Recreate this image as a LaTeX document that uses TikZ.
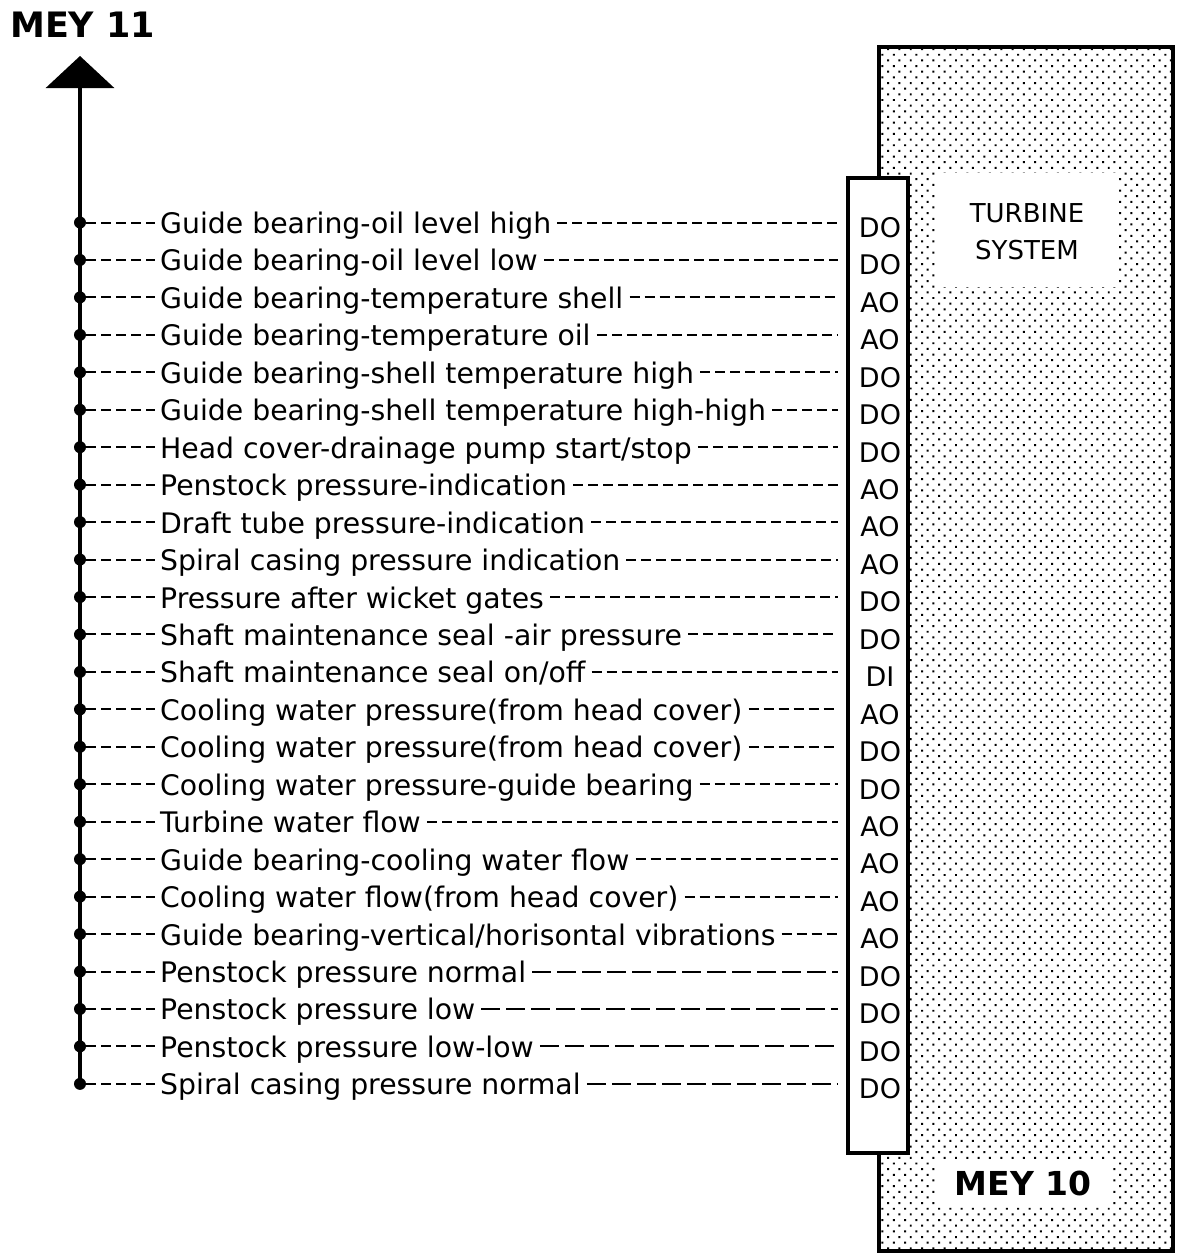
\documentclass[tikz,border=0pt]{standalone}
\usepackage{fontspec}
\setmainfont{DejaVu Sans}
\usetikzlibrary{arrows.meta,patterns.meta}
\tikzset{
  rowtext/.style={anchor=base west,inner sep=0pt,font=\fontsize{28.3}{30}\selectfont},
  code/.style={inner sep=0pt,font=\fontsize{27}{28}\selectfont},
  lead/.style={line width=2pt,dash pattern=on 10pt off 5pt},
  longlead/.style={line width=2pt,dash pattern=on 19pt off 6pt},
  junction/.style={circle,fill=black,inner sep=0pt,minimum size=12pt},
  bigbox/.style={line width=4pt},
}
\begin{document}
\begin{tikzpicture}[x=1pt,y=-1pt]
\useasboundingbox (0,0) rectangle (1178,1254);
% outer shaded box
\draw[bigbox,pattern={Dots[radius=1.4pt,distance=8pt,angle=45]}] (879,47) rectangle (1173,1251);
\fill[white] (938,173) rectangle (1117,287);
\fill[white] (937,1162) rectangle (1110,1205);
\node[font=\fontsize{26}{37}\selectfont,align=center] (turb) at (1027,232) {TURBINE\\SYSTEM};
\node[font=\fontsize{33}{36}\bfseries\selectfont] (mey10) at (1023,1183) {MEY 10};
% inner strip
\draw[bigbox,fill=white] (848,178) rectangle (908,1153);
% title
\node[anchor=base west,inner sep=0pt,font=\fontsize{35}{38}\bfseries\selectfont] (mey11) at (10,37) {MEY 11};
% rows
\foreach [count=\i] \txt/\cd/\st in {
  Guide bearing-oil level high/DO/lead,
  Guide bearing-oil level low/DO/lead,
  Guide bearing-temperature shell/AO/lead,
  Guide bearing-temperature oil/AO/lead,
  Guide bearing-shell temperature high/DO/lead,
  Guide bearing-shell temperature high-high/DO/lead,
  Head cover-drainage pump start{/}stop/DO/lead,
  Penstock pressure-indication/AO/lead,
  Draft tube pressure-indication/AO/lead,
  Spiral casing pressure indication/AO/lead,
  Pressure after wicket gates/DO/lead,
  Shaft maintenance seal -air pressure/DO/lead,
  Shaft maintenance seal on{/}off/DI/lead,
  Cooling water pressure(from head cover)/AO/lead,
  Cooling water pressure(from head cover)/DO/lead,
  Cooling water pressure-guide bearing/DO/lead,
  Turbine water flow/AO/lead,
  Guide bearing-cooling water flow/AO/lead,
  Cooling water flow(from head cover)/AO/lead,
  Guide bearing-vertical{/}horisontal vibrations/AO/lead,
  Penstock pressure normal/DO/longlead,
  Penstock pressure low/DO/longlead,
  Penstock pressure low-low/DO/longlead,
  Spiral casing pressure normal/DO/longlead}
{
  \pgfmathsetmacro{\yy}{222.5+37.45*(\i-1)}
  \node[junction] (j\i) at (80,\yy) {};
  \coordinate (s\i) at (155,\yy);
  \node[rowtext] (l\i) at (160,\yy+11) {\txt};
  \coordinate (e\i) at (838,\yy);
  \node[code] (c\i) at (880,\yy+5) {\cd};
  \draw[lead] (j\i.east) -- (s\i);
  \draw[\st] ([xshift=6pt]l\i.east |- j\i) -- (e\i);
}
% main bus with arrow
\coordinate (apex) at (80,56);
\draw[line width=3.5pt,-{Triangle[width=68pt,length=32pt]}] (j24.center) -- (apex);
\end{tikzpicture}
\end{document}
